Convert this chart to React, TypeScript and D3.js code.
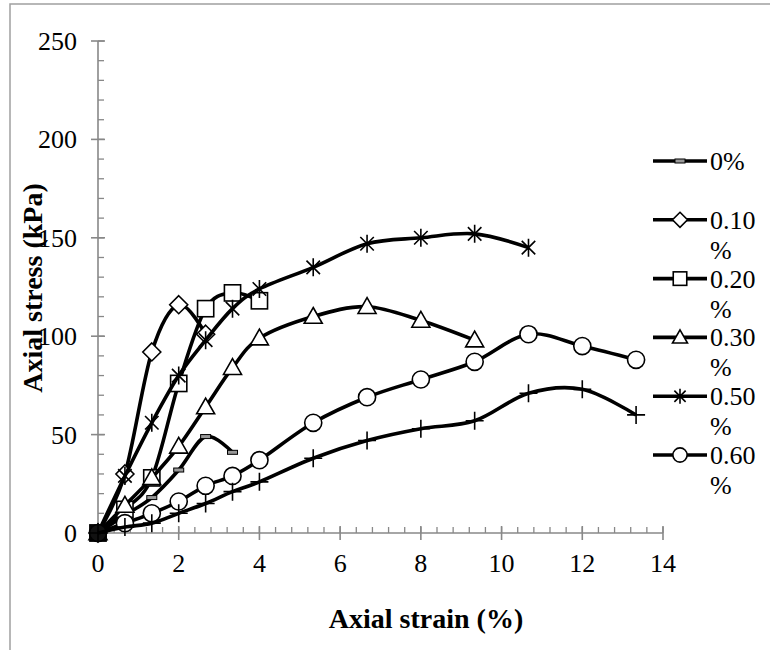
import React from "react";
import * as d3 from "d3";

// Axial strain (%) sample points shared by the series
const strainSteps = [0, 0.667, 1.333, 2, 2.667, 3.333, 4, 5.333, 6.667, 8, 9.333, 10.667, 12, 13.333];

// Axial stress (kPa) per fibre content
const stress0 = [0, 9, 18, 32, 49, 41];
const stress010 = [0, 30, 92, 116, 101];
const stress020 = [0, 12, 28, 76, 114, 122, 118];
const stress030 = [0, 14, 28, 44, 64, 84, 99, 110, 115, 108, 98];
const stress050 = [0, 29, 56, 80, 98, 114, 124, 135, 147, 150, 152, 145];
const stress060 = [0, 5, 10, 16, 24, 29, 37, 56, 69, 78, 87, 101, 95, 88];
const stressPlus = [0, 3, 5, 10, 15, 21, 26, 38, 47, 53, 57, 71, 73, 60];

const legendLabels = ["0%", "0.10 %", "0.20 %", "0.30 %", "0.50 %", "0.60 %"];
const xTicks = [0, 2, 4, 6, 8, 10, 12, 14];
const yTicks = [0, 50, 100, 150, 200, 250];

type Marker = "dash" | "diamond" | "square" | "triangle" | "star" | "circle" | "plus";

const series: { values: number[]; marker: Marker; legend: string | null }[] = [
  { values: stress0, marker: "dash", legend: legendLabels[0] },
  { values: stress010, marker: "diamond", legend: legendLabels[1] },
  { values: stress020, marker: "square", legend: legendLabels[2] },
  { values: stress030, marker: "triangle", legend: legendLabels[3] },
  { values: stress050, marker: "star", legend: legendLabels[4] },
  { values: stress060, marker: "circle", legend: legendLabels[5] },
  { values: stressPlus, marker: "plus", legend: null },
];

const FONT = "Liberation Serif";
const AXIS = "#888888";

function MarkerShape({ kind, cx, cy, s, fill = "#fff" }: { kind: Marker; cx: number; cy: number; s: number; fill?: string }) {
  const h = s / 2;
  const common = { stroke: "#000", strokeWidth: 1.6, fill };
  switch (kind) {
    case "dash":
      return <rect x={cx - 5} y={cy - 2} width={10} height={4} fill="#999" stroke="#000" strokeWidth={1} />;
    case "diamond":
      return <path d={`M${cx},${cy - h}L${cx + h},${cy}L${cx},${cy + h}L${cx - h},${cy}Z`} {...common} />;
    case "square":
      return <rect x={cx - h * 0.9} y={cy - h * 0.9} width={s * 0.9} height={s * 0.9} {...common} />;
    case "triangle":
      return <path d={`M${cx},${cy - h}L${cx + h},${cy + h * 0.75}L${cx - h},${cy + h * 0.75}Z`} {...common} />;
    case "circle":
      return <circle cx={cx} cy={cy} r={h * 0.95} {...common} />;
    case "star": {
      const a = h * 0.75;
      return (
        <path
          d={`M${cx - a},${cy - a}L${cx + a},${cy + a}M${cx - a},${cy + a}L${cx + a},${cy - a}M${cx},${cy - h}L${cx},${cy + h}`}
          stroke="#000"
          strokeWidth={1.6}
          fill="none"
        />
      );
    }
    case "plus":
      return (
        <path d={`M${cx - h},${cy}L${cx + h},${cy}M${cx},${cy - h}L${cx},${cy + h}`} stroke="#000" strokeWidth={1.6} fill="none" />
      );
  }
}

export default function App() {
  const x = d3.scaleLinear().domain([0, 14]).range([98, 663]);
  const y = d3.scaleLinear().domain([0, 250]).range([533, 41]);

  const line = d3
    .line<[number, number]>()
    .x((d) => x(d[0]))
    .y((d) => y(d[1]))
    .curve(d3.curveCardinal.tension(0));

  const xMinor = d3.range(0, 14.001, 0.4);
  const yMinor = d3.range(0, 250.001, 10);

  const legendY = (i: number) => 161 + i * 58.8;

  return (
    <svg width={770} height={650} style={{ position: "absolute", left: 0, top: 0, background: "#fff" }}>
      <rect x={0} y={0} width={770} height={650} fill="#fff" />
      {/* chart frame */}
      <rect x={10} y={4} width={900} height={800} fill="none" stroke="#a0a0a0" strokeWidth={1.5} />

      {/* y axis */}
      <line x1={x(0)} x2={x(0)} y1={y(0)} y2={y(250)} stroke={AXIS} strokeWidth={1.6} />
      {yMinor.map((v) => (
        <line key={`ym${v}`} x1={x(0)} x2={x(0) + 6} y1={y(v)} y2={y(v)} stroke={AXIS} strokeWidth={1.3} />
      ))}
      {yTicks.map((v) => (
        <g key={`yt${v}`}>
          <line x1={x(0) - 7} x2={x(0) + 7} y1={y(v)} y2={y(v)} stroke={AXIS} strokeWidth={1.6} />
          <text x={77} y={y(v) + 9} textAnchor="end" fontSize={26} fill="#000" fontFamily={FONT}>
            {v}
          </text>
        </g>
      ))}

      {/* x axis */}
      <line x1={x(0)} x2={x(14)} y1={y(0)} y2={y(0)} stroke={AXIS} strokeWidth={1.6} />
      {xMinor.map((v) => (
        <line key={`xm${v}`} x1={x(v)} x2={x(v)} y1={y(0) - 6} y2={y(0)} stroke={AXIS} strokeWidth={1.3} />
      ))}
      {xTicks.map((v) => (
        <g key={`xt${v}`}>
          <line x1={x(v)} x2={x(v)} y1={y(0) - 7} y2={y(0) + 7} stroke={AXIS} strokeWidth={1.6} />
          <text x={x(v)} y={572} textAnchor="middle" fontSize={26} fill="#000" fontFamily={FONT}>
            {v}
          </text>
        </g>
      ))}

      {/* axis titles */}
      <text x={426} y={628} textAnchor="middle" fontSize={28} fontWeight="bold" fill="#000" fontFamily={FONT}>
        Axial strain (%)
      </text>
      <text
        transform={`translate(42,288) rotate(-90)`}
        textAnchor="middle"
        fontSize={28}
        fontWeight="bold"
        fill="#000"
        fontFamily={FONT}
      >
        Axial stress (kPa)
      </text>

      {/* series: smoothed line, then its markers */}
      {series.map((s, i) => {
        const pts: [number, number][] = s.values.map((v, j) => [strainSteps[j], v]);
        return (
          <g key={`s${i}`}>
            <path d={line(pts) ?? ""} fill="none" stroke="#000" strokeWidth={3.6} strokeLinejoin="round" />
            {pts.map((p, j) => (
              <MarkerShape
                key={j}
                kind={s.marker}
                cx={x(p[0])}
                cy={y(p[1])}
                s={18}
                fill={p[0] === 0 && p[1] === 0 ? "#111" : "#fff"}
              />
            ))}
          </g>
        );
      })}

      {/* legend */}
      {series
        .filter((s) => s.legend !== null)
        .map((s, i) => {
          const ly = legendY(i);
          const parts = (s.legend as string).split(" ");
          return (
            <g key={`lg${i}`}>
              <line x1={653} x2={707} y1={ly} y2={ly} stroke="#000" strokeWidth={3.6} />
              <MarkerShape kind={s.marker} cx={680} cy={ly} s={15} />
              {parts.map((t, k) => (
                <text key={k} x={710} y={ly + 9 + k * 30} fontSize={26} fill="#000" fontFamily={FONT}>
                  {t}
                </text>
              ))}
            </g>
          );
        })}
    </svg>
  );
}
